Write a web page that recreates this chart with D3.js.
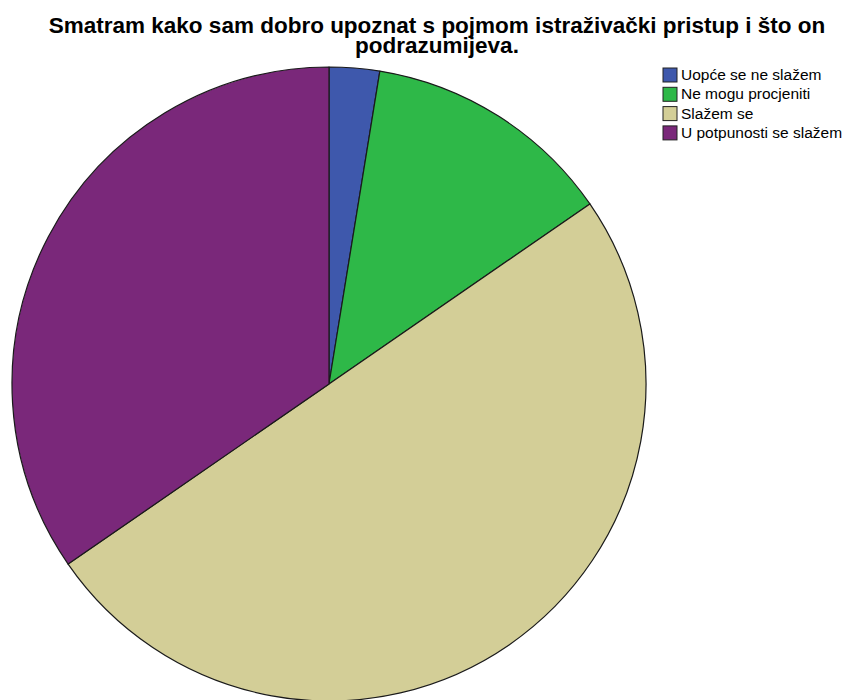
<!DOCTYPE html>
<html>
<head>
<meta charset="utf-8">
<script src="https://cdn.jsdelivr.net/npm/d3@7"></script>
<style>
  body { margin: 0; background: #fff; }
  svg { display: block; }
</style>
</head>
<body>
<div id="chart-pie"></div>
<script>
const titleLines = ["Smatram kako sam dobro upoznat s pojmom istraživački pristup i što on", "podrazumijeva."];
const categories = ["Uopće se ne slažem", "Ne mogu procjeniti", "Slažem se", "U potpunosti se slažem"];
const counts = [2, 10, 39, 27];
const colors = ["#3e58ac", "#2eb848", "#d3ce97", "#7a287a"];

const width = 842;
const height = 700;
const cx = 329, cy = 384, radius = 317;

// SVG Creation
const svg = d3.select("#chart-pie")
              .append("svg")
              .attr("width", width)
              .attr("height", height);

// Title
const title = svg.append("text")
                 .attr("x", 437)
                 .attr("y", 33)
                 .attr("text-anchor", "middle")
                 .style("font-family", "Arial, 'Liberation Sans', sans-serif")
                 .style("font-weight", "bold")
                 .style("font-size", "22.5px")
                 .style("fill", "#000");

title.selectAll("tspan")
     .data(titleLines)
     .enter()
     .append("tspan")
     .attr("x", 437)
     .attr("dy", (d, i) => i === 0 ? 0 : 19.5)
     .text(d => d);

// Pie
const color = d3.scaleOrdinal().domain(categories).range(colors);
const pie = d3.pie().sort(null).value(d => d.count);
const arc = d3.arc().innerRadius(0).outerRadius(radius);

const data = categories.map((c, i) => ({ category: c, count: counts[i] }));

svg.append("g")
   .attr("transform", `translate(${cx}, ${cy})`)
   .selectAll(".slice")
   .data(pie(data))
   .enter()
   .append("path")
   .attr("class", "slice")
   .attr("d", arc)
   .attr("fill", d => color(d.data.category))
   .attr("stroke", "#1a1a1a")
   .attr("stroke-width", 1.2)
   .attr("stroke-linejoin", "round");

// Legend
const legend = svg.append("g")
                  .attr("transform", "translate(663, 68)");

const rows = legend.selectAll(".row")
                   .data(categories)
                   .enter()
                   .append("g")
                   .attr("class", "row")
                   .attr("transform", (d, i) => `translate(0, ${i * 19.3})`);

rows.append("rect")
    .attr("width", 14)
    .attr("height", 14)
    .attr("fill", d => color(d))
    .attr("stroke", "#222")
    .attr("stroke-width", 1);

rows.append("text")
    .attr("x", 18)
    .attr("y", 12)
    .style("font-family", "Arial, 'Liberation Sans', sans-serif")
    .style("font-size", "15.5px")
    .style("fill", "#000")
    .text(d => d);
</script>
</body>
</html>
